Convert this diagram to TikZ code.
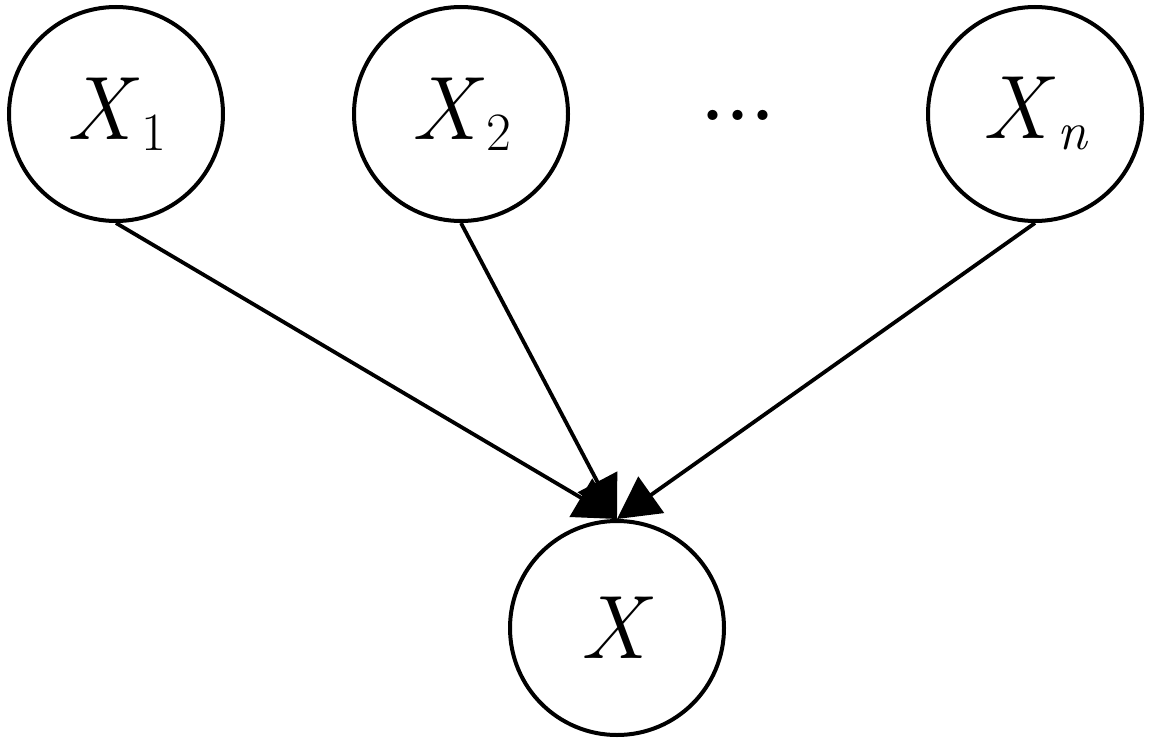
\documentclass[tikz,border=0pt]{standalone}
\usepackage{fontspec}
\usetikzlibrary{arrows.meta}
\newcommand{\vlab}[1]{\textit{X}\kern1pt\raisebox{-5.5pt}{\fontsize{27}{27}\selectfont #1}}
\tikzset{
  var/.style={circle,draw,line width=2pt,inner sep=0pt,minimum size=107pt,
    font=\fontsize{45}{50}\selectfont},
  link/.style={line width=1.9pt,-{Triangle[length=21pt,width=22pt]}}
}
\begin{document}
\begin{tikzpicture}[x=0.5pt,y=-0.5pt]
\useasboundingbox (0,0) rectangle (1151,744);
\node[var] (x1) at (116,114) {\vlab{1}};
\node[var] (x2) at (461,114) {\vlab{2}};
\node[var] (xn) at (1035,114) {\vlab{\textit{n}}};
\node[var] (x) at (617,628) {\textit{X}};
\node[inner sep=0pt,anchor=base,font=\fontsize{62}{62}\selectfont] (dots) at (738,120) {.\kern-3pt.\kern-3pt.};
\draw[link] (x1.south) -- (x.north);
\draw[link] (x2.south) -- (x.north);
\draw[link] (xn.south) -- (x.north);
\end{tikzpicture}
\end{document}
